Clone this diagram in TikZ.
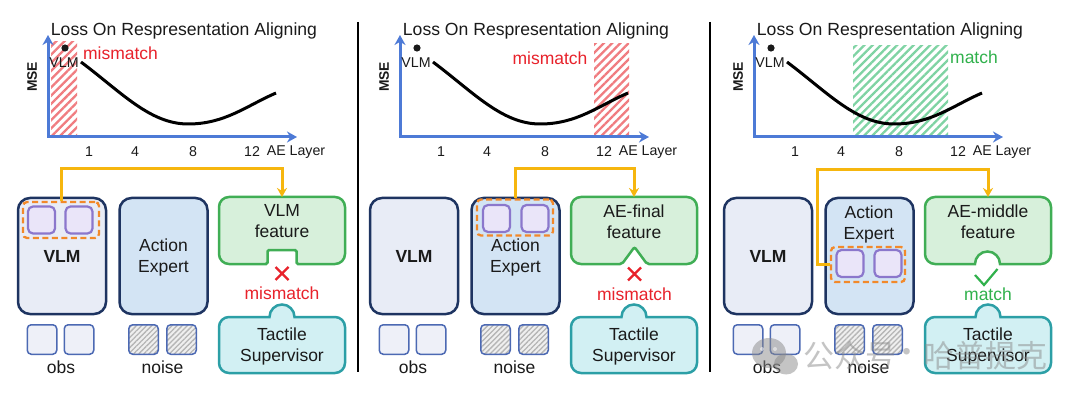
\documentclass[tikz,border=0pt]{standalone}
\usepackage{fontspec}
\setmainfont{Liberation Sans}
\newfontfamily\cjkfont{Noto Sans CJK SC}
\usetikzlibrary{arrows.meta,patterns.meta}
\definecolor{txt}{HTML}{1A1A1A}
\definecolor{axisblue}{HTML}{4D7AD6}
\definecolor{navy}{HTML}{1E3461}
\definecolor{vlmfill}{HTML}{E8ECF6}
\definecolor{aefill}{HTML}{D3E4F4}
\definecolor{purpleb}{HTML}{8B77CC}
\definecolor{purplef}{HTML}{EAE5F9}
\definecolor{orangec}{HTML}{F2892A}
\definecolor{greenb}{HTML}{40AE55}
\definecolor{greenf}{HTML}{D7F0DB}
\definecolor{tealb}{HTML}{2C9FA6}
\definecolor{tealf}{HTML}{D2F0F3}
\definecolor{obsb}{HTML}{4C69B3}
\definecolor{obsf}{HTML}{EEF0F8}
\definecolor{noisebg}{HTML}{EFEFEF}
\definecolor{noisel}{HTML}{B5B5B5}
\definecolor{hatchred}{HTML}{F07C80}
\definecolor{hatchgreen}{HTML}{7ED3A3}
\definecolor{redtxt}{HTML}{E8222B}
\definecolor{greentxt}{HTML}{30B14C}
\definecolor{yellowc}{HTML}{F6B60E}
\definecolor{wmgray}{HTML}{8A8A8A}

\newcommand\panelbase[1]{%
  \node[titletext] (#1title) at (184,31) {Loss On Respresentation Aligning};
  \draw[axisline] (48,35) -- (48,137) -- (297,137);
  \node[msetext] (#1mse) at (32,77) {MSE};
  \node[ticktext] (#1t1) at (89,152) {1};
  \node[ticktext] (#1t4) at (135,152) {4};
  \node[ticktext] (#1t8) at (193,152) {8};
  \node[ticktext] (#1t12) at (252,152) {12};
  \node[ticktext] (#1tae) at (296,152) {AE Layer};
  \fill[txt] (65,48) circle[radius=3.6];
  \node[ticktext] (#1vlmlbl) at (64,63) {VLM};
  \draw[curveline] (81,62) .. controls (121,92) and (150,124) .. (188,124)
        .. controls (225,124) and (246,106) .. (276,93);
  \node[bigbox, fill=vlmfill, font=\fontsize{17.5}{21}\selectfont\bfseries] (#1vlm) at (62,256) {VLM};
  \node[bigbox, fill=aefill] (#1ae) at (163.5,256) {};
  \node[obsq] (#1o1) at (42,339.5) {};
  \node[obsq] (#1o2) at (79,339.5) {};
  \node[lbl] (#1obs) at (61,367) {obs};
  \node[noiseq] (#1n1) at (143.5,339.5) {};
  \node[noiseq] (#1n2) at (181.5,339.5) {};
  \node[lbl] (#1noise) at (162.5,367) {noise};
  \draw[tactbox] (300,317) [rounded corners=10pt] -- (345,317) -- (345,373)
        -- (219,373) -- (219,317) -- (255,317) [sharp corners] -- (269.5,317)
        arc[start angle=180, end angle=360, radius=12.5] -- cycle;
  \node[lbl] (#1tact) at (282,346.5) {Tactile\\Supervisor};
  \coordinate (#1ftop) at (282,197);
}

\begin{document}
\begin{tikzpicture}[x=1pt,y=-1pt,
  titletext/.style={font=\fontsize{17.6}{20}\selectfont, text=txt, inner sep=0pt},
  ticktext/.style={font=\fontsize{14.2}{16}\selectfont, text=txt, inner sep=0pt},
  msetext/.style={font=\fontsize{13.8}{15}\selectfont\bfseries, text=txt, rotate=90, inner sep=0pt},
  lbl/.style={font=\fontsize{17.5}{21}\selectfont, text=txt, align=center, inner sep=0pt},
  redlbl/.style={font=\fontsize{17.5}{21}\selectfont, text=redtxt, inner sep=0pt},
  greenlbl/.style={font=\fontsize{17.5}{21}\selectfont, text=greentxt, inner sep=0pt},
  axisline/.style={draw=axisblue, line width=3pt, {Stealth[length=10pt,width=11pt]}-{Stealth[length=10pt,width=11pt]}},
  curveline/.style={draw=black, line width=3pt},
  bigbox/.style={draw=navy, line width=2.5pt, rounded corners=12pt, minimum width=88pt, minimum height=116pt, text=txt},
  dashbox/.style={draw=orangec, line width=2.3pt, dash pattern=on 6pt off 3.5pt, rounded corners=4pt, minimum width=76pt, minimum height=36pt, inner sep=0pt},
  purpsq/.style={draw=purpleb, fill=purplef, line width=2.2pt, rounded corners=5pt, minimum size=27pt, inner sep=0pt},
  obsq/.style={draw=obsb, fill=obsf, line width=1.5pt, rounded corners=4pt, minimum size=29.5pt, inner sep=0pt},
  noiseq/.style={draw=obsb, preaction={fill=noisebg}, pattern={Lines[angle=45,distance=3.6pt,line width=1.3pt]}, pattern color=noisel, line width=1.5pt, rounded corners=4pt, minimum size=29.5pt, inner sep=0pt},
  featbox/.style={draw=greenb, fill=greenf, line width=2.5pt},
  tactbox/.style={draw=tealb, fill=tealf, line width=2.5pt},
  conn/.style={draw=yellowc, line width=3pt, -{Stealth[length=9pt,width=10pt]}},
  redx/.style={draw=redtxt, line width=2.2pt},
  greencheck/.style={draw=greentxt, line width=2.2pt},
  divider/.style={draw=black, line width=1.8pt},
  redhatch/.style={pattern={Lines[angle=45,distance=5.8pt,line width=2.3pt]}, pattern color=hatchred},
  greenhatch/.style={pattern={Lines[angle=45,distance=5.8pt,line width=2.3pt]}, pattern color=hatchgreen}
]
\useasboundingbox (0,0) rectangle (1080,401);
\fill[white] (0,0) rectangle (1080,401);

% ---------------- Panel 1 ----------------
\begin{scope}
  \fill[redhatch] (51,42) rectangle (77,137);
  \panelbase{a}
  \node[redlbl] (atopmis) at (120.5,53) {mismatch};
  \node[dashbox] (adash) at (61,220) {};
  \node[purpsq] (ap1) at (41.5,220) {};
  \node[purpsq] (ap2) at (79,220) {};
  \node[lbl] (aaetext) at (163.5,257.5) {Action\\Expert};
  \draw[featbox] (245,264) [rounded corners=10pt] -- (219,264) -- (219,197) -- (345,197)
        -- (345,264) -- (320,264) [rounded corners=1.5pt] -- (296.5,264) -- (296.5,250)
        -- (267.5,250) -- (267.5,264) -- cycle;
  \node[lbl] (afeat) at (282,221.5) {VLM\\feature};
  \draw[redx] (275.5,267) -- (288.5,280) (275.5,280) -- (288.5,267);
  \node[redlbl] (amis) at (282,293) {mismatch};
  \draw[conn] (adash.north) -- ++(0,-32) -| (aftop);
\end{scope}

\draw[divider] (358,22) -- (358,372);

% ---------------- Panel 2 ----------------
\begin{scope}[xshift=352pt]
  \fill[redhatch] (242,44) rectangle (277,137);
  \panelbase{b}
  \node[redlbl] (btopmis) at (198,58) {mismatch};
  \node[dashbox] (bdash) at (163,217.5) {};
  \node[purpsq] (bp1) at (144.5,218.5) {};
  \node[purpsq] (bp2) at (183,218.5) {};
  \node[lbl] (baetext) at (163.5,257.5) {Action\\Expert};
  \draw[featbox] (245,264) [rounded corners=10pt] -- (219,264) -- (219,197) -- (345,197)
        -- (345,264) -- (320,264) [rounded corners=2pt] -- (295,264) -- (282.5,247)
        -- (270,264) -- cycle;
  \node[lbl] (bfeat) at (282,221.5) {AE-final\\feature};
  \draw[redx] (276,267.5) -- (289,280.5) (276,280.5) -- (289,267.5);
  \node[redlbl] (bmis) at (282.5,294) {mismatch};
  \draw[conn] (bdash.north) -- ++(0,-29.5) -| (bftop);
\end{scope}

\draw[divider] (710,22) -- (710,372);

% ---------------- Panel 3 ----------------
\begin{scope}[xshift=706pt]
  \fill[greenhatch] (147,46) rectangle (242,137);
  \panelbase{c}
  \node[greenlbl] (ctopmatch) at (268,57) {match};
  \node[lbl] (caetext) at (163,224) {Action\\Expert};
  \node[dashbox, minimum width=74pt, minimum height=35pt] (cdash) at (162,264.5) {};
  \node[purpsq] (cp1) at (144,263.5) {};
  \node[purpsq] (cp2) at (182,263.5) {};
  \draw[featbox] (245,264) [rounded corners=10pt] -- (219,264) -- (219,197) -- (345,197)
        -- (345,264) -- (320,264) [sharp corners] -- (294,264)
        arc[start angle=0, end angle=-180, radius=12.5] -- cycle;
  \node[lbl] (cfeat) at (282,221.5) {AE-middle\\feature};
  \draw[greencheck] (269,275) -- (278,285) -- (291.5,269);
  \node[greenlbl] (cmatch) at (282,294) {match};
  \draw[conn] (cdash.west) -| (111,170) -| (cftop);
\end{scope}

% ---------------- watermark ----------------
\begin{scope}[opacity=0.5]
  \fill[wmgray] (769,353) ellipse[x radius=17, y radius=15];
  \fill[wmgray] (786,364) ellipse[x radius=12, y radius=10.5];
  \fill[white] (762,349) circle[radius=2] (775,349) circle[radius=2];
  \node[font=\cjkfont\fontsize{31}{33}\selectfont, text=wmgray, inner sep=0pt] (wm1) at (849.5,356) {公众号};
  \node[font=\cjkfont\fontsize{31}{33}\selectfont, text=wmgray, inner sep=0pt] (wm2) at (907,356) {·};
  \node[font=\cjkfont\fontsize{31}{33}\selectfont, text=wmgray, inner sep=0pt] (wm3) at (985,356) {哈普提克};
\end{scope}
\end{tikzpicture}
\end{document}
